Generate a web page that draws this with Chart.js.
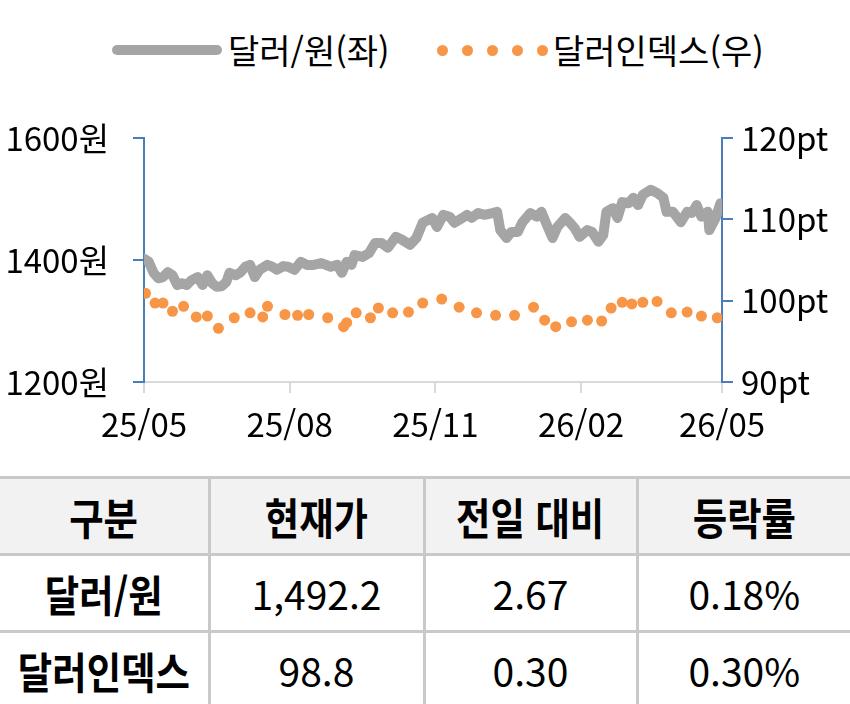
<!DOCTYPE html>
<html lang="ko">
<head>
<meta charset="utf-8">
<script src="https://cdn.jsdelivr.net/npm/chart.js@4"></script>
<style>
  html, body { margin:0; padding:0; background:#fff; }
  body { width:850px; height:704px; position:relative; overflow:hidden;
         font-family:"Noto Sans CJK KR","Noto Sans",sans-serif; color:#000; }
  #chartBox { position:absolute; left:0; top:0; width:850px; height:470px; }
  .legend { position:absolute; top:28px; height:44px; line-height:44px; font-size:34px; white-space:nowrap; }
  .lg-line { position:absolute; left:112px; top:45px; width:110px; height:10px; border-radius:5px; background:#A5A5A5; }
  .lg-dot { position:absolute; top:45px; width:11px; height:11px; border-radius:50%; background:#F79646; }
  table { position:absolute; left:0; top:476px; width:850px; border-collapse:collapse; table-layout:fixed; }
  td, th { text-align:center; vertical-align:middle; font-size:39px; padding:0; height:74px;
           border-left:3px solid #C9C9C9; border-top:3px solid #C9C9C9; white-space:nowrap; }
  td:first-child, th:first-child { border-left:none; }
  th { background:#F2F2F2; font-weight:700; }
  td { font-weight:400; }
  .kr { display:inline-block; font-size:43px; font-weight:700; transform:scaleX(0.87); transform-origin:center; }
</style>
</head>
<body>
<div class="lg-line"></div>
<div class="legend" style="left:228px;">달러/원(좌)</div>
<div class="lg-dot" style="left:437px;"></div>
<div class="lg-dot" style="left:462px;"></div>
<div class="lg-dot" style="left:487px;"></div>
<div class="lg-dot" style="left:512px;"></div>
<div class="lg-dot" style="left:537px;"></div>
<div class="legend" style="left:553px;">달러인덱스(우)</div>

<div id="chartBox"><canvas id="c"></canvas></div>

<table id="tbl"></table>

<script>
// ---- Data ----
const seriesNames = ['달러/원(좌)', '달러인덱스(우)'];
const xTickDays = [0, 92, 184, 276, 365];
const xTickLabels = ['25/05', '25/08', '25/11', '26/02', '26/05'];
const leftTicks = [1200, 1400, 1600];
const rightTicks = [90, 100, 110, 120];

// 달러/원 (days since 2025-05-01)
const krwDays = [0,3,6,9,12,15,18,21,24,27,30,34,37,40,43,46,49,52,54,58,61,64,67,70,73,78,81,84,88,91,
  95,99,103,107,112,118,122,125,128,131,133,138,142,146,150,154,159,163,168,172,176,182,185,
  189,193,196,201,204,207,211,215,220,223,225,229,232,236,239,244,248,251,255,258,261,266,269,272,275,
  280,283,287,290,292,296,299,302,306,309,312,315,320,324,328,330,334,339,343,346,349,352,356,357,361,364,365];
const krwValues = [1402,1397,1379,1370,1372,1380,1375,1359,1362,1359,1367,1372,1359,1375,1362,1356,1357,1364,1379,1375,1380,1389,1392,1372,1384,1392,1389,1384,1390,1389,
  1384,1397,1392,1392,1395,1389,1392,1379,1397,1392,1408,1405,1411,1428,1428,1420,1438,1433,1425,1436,1461,1469,1454,
  1474,1471,1461,1469,1474,1469,1477,1474,1477,1479,1449,1436,1446,1446,1462,1477,1471,1479,1454,1436,1454,1469,1461,1452,1438,
  1449,1446,1430,1441,1479,1485,1469,1495,1493,1502,1490,1507,1515,1510,1502,1479,1479,1462,1479,1477,1490,1471,1479,1449,1469,1493,1492.2];

// 달러인덱스 (weekly)
const dxyDays = [1,7,12,18,25,33,40,47,57,67,75,78,89,97,104,116,126,128,134,143,148,157,167,176,188,199,210,222,234,246,253,260,270,280,289,295,302,308,315,324,333,343,352,362];
const dxyValues = [100.9,99.7,99.7,98.7,99.3,98.0,98.1,96.6,97.9,98.5,98.0,99.3,98.3,98.2,98.3,97.9,96.8,97.3,98.5,97.9,99.1,98.5,98.6,99.7,100.2,99.2,98.5,98.2,98.2,99.2,97.6,96.8,97.4,97.6,97.5,99.1,99.8,99.6,99.8,99.9,98.5,98.6,98.1,97.9];

// Table
const tableHeader = ['구분', '현재가', '전일 대비', '등락률'];
const tableRows = [
  ['달러/원', '1,492.2', '2.67', '0.18%'],
  ['달러인덱스', '98.8', '0.30', '0.30%']
];

// ---- Table build ----
const tbl = document.getElementById('tbl');
const colW = [209, 215, 213, 213];
let html = '<colgroup>' + colW.map(w => `<col style="width:${w}px">`).join('') + '</colgroup>';
html += '<tr>' + tableHeader.map(h => `<th><span class="kr">${h}</span></th>`).join('') + '</tr>';
tableRows.forEach(r => {
  html += '<tr>' + r.map((c, i) => i === 0 ? `<td><span class="kr">${c}</span></td>` : `<td>${c}</td>`).join('') + '</tr>';
});
tbl.innerHTML = html;

// ---- Chart ----
const FONT = { family: '"Noto Sans CJK KR","Noto Sans",sans-serif', size: 33 };
const BLUE = '#4A7EBB';

new Chart(document.getElementById('c'), {
  data: {
    datasets: [
      {
        type: 'line',
        label: seriesNames[0],
        data: krwDays.map((d, i) => ({ x: d, y: krwValues[i] })),
        yAxisID: 'y',
        borderColor: '#A5A5A5',
        borderWidth: 10,
        borderJoinStyle: 'round',
        borderCapStyle: 'round',
        pointRadius: 0,
        tension: 0,
        order: 2
      },
      {
        type: 'line',
        label: seriesNames[1],
        data: dxyDays.map((d, i) => ({ x: d, y: dxyValues[i] })),
        yAxisID: 'y2',
        showLine: false,
        pointRadius: 5.5,
        pointBackgroundColor: '#F79646',
        pointBorderWidth: 0,
        backgroundColor: '#F79646',
        order: 1
      }
    ]
  },
  options: {
    responsive: true,
    maintainAspectRatio: false,
    animation: false,
    events: [],
    layout: { padding: { top: 138, bottom: 0, left: 0, right: 0 } },
    plugins: { legend: { display: false }, tooltip: { enabled: false } },
    scales: {
      x: {
        type: 'linear',
        min: 0, max: 365,
        afterBuildTicks: s => { s.ticks = xTickDays.map(v => ({ value: v })); },
        afterFit: s => { s.height = 88; },
        ticks: {
          autoSkip: false, maxRotation: 0, color: '#000', font: FONT, padding: 12,
          callback: v => { const i = xTickDays.indexOf(v); return i >= 0 ? xTickLabels[i] : ''; }
        },
        grid: { drawOnChartArea: false, drawTicks: true, tickLength: 11, color: '#D9D9D9', lineWidth: 2 },
        border: { display: true, color: '#D9D9D9', width: 2 }
      },
      y: {
        position: 'left',
        min: 1200, max: 1600,
        afterBuildTicks: s => { s.ticks = leftTicks.map(v => ({ value: v })); },
        afterFit: s => { s.width = 144; },
        ticks: { color: '#000', font: FONT, padding: 24, callback: v => v + '원' },
        grid: { drawOnChartArea: false, drawTicks: true, tickLength: 11, color: BLUE, lineWidth: 2 },
        border: { display: true, color: BLUE, width: 2 }
      },
      y2: {
        position: 'right',
        min: 90, max: 120,
        afterBuildTicks: s => { s.ticks = rightTicks.map(v => ({ value: v })); },
        afterFit: s => { s.width = 128; },
        ticks: { color: '#000', font: FONT, padding: 8, callback: v => v + 'pt' },
        grid: { drawOnChartArea: false, drawTicks: true, tickLength: 11, color: BLUE, lineWidth: 2 },
        border: { display: true, color: BLUE, width: 2 }
      }
    }
  }
});
</script>
</body>
</html>
